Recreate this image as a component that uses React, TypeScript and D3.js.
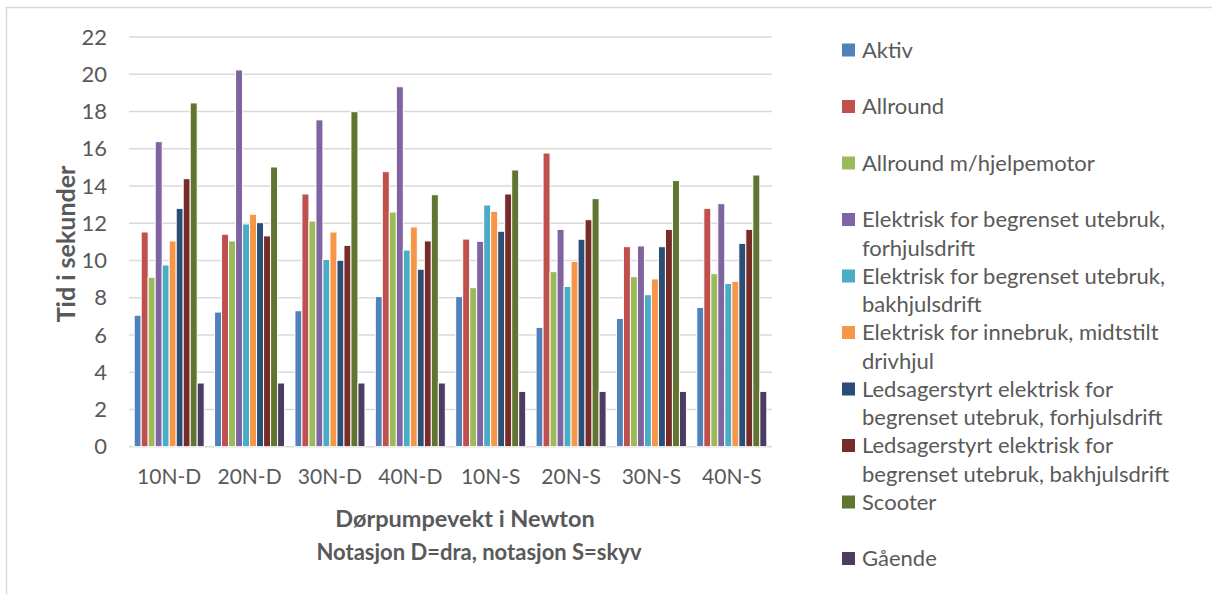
import React from "react";
import * as d3 from "d3";

const categories = ["10N-D", "20N-D", "30N-D", "40N-D", "10N-S", "20N-S", "30N-S", "40N-S"];
const yTicks = [0, 2, 4, 6, 8, 10, 12, 14, 16, 18, 20, 22];

const aktiv = [7.06, 7.23, 7.3, 8.06, 8.06, 6.41, 6.89, 7.48];
const allround = [11.53, 11.41, 13.57, 14.77, 11.15, 15.77, 10.74, 12.8];
const allroundMotor = [9.1, 11.05, 12.12, 12.6, 8.54, 9.4, 9.13, 9.29];
const elekForhjul = [16.38, 20.23, 17.55, 19.33, 11.03, 11.67, 10.78, 13.05];
const elekBakhjul = [9.76, 11.96, 10.06, 10.56, 12.98, 8.61, 8.16, 8.77];
const elekInne = [11.05, 12.48, 11.53, 11.8, 12.64, 9.95, 9.01, 8.88];
const ledsagerForhjul = [12.8, 12.03, 10.01, 9.53, 11.57, 11.14, 10.74, 10.92];
const ledsagerBakhjul = [14.39, 11.32, 10.81, 11.05, 13.57, 12.19, 11.67, 11.67];
const scooter = [18.46, 15.02, 17.99, 13.53, 14.86, 13.32, 14.29, 14.59];
const gaende = [3.42, 3.42, 3.42, 3.42, 2.97, 2.97, 2.97, 2.97];

const seriesLabels = [
  ["Aktiv"],
  ["Allround"],
  ["Allround m/hjelpemotor"],
  ["Elektrisk for begrenset utebruk,", "forhjulsdrift"],
  ["Elektrisk for begrenset utebruk,", "bakhjulsdrift"],
  ["Elektrisk for innebruk, midtstilt", "drivhjul"],
  ["Ledsagerstyrt elektrisk for", "begrenset utebruk, forhjulsdrift"],
  ["Ledsagerstyrt elektrisk for", "begrenset utebruk, bakhjulsdrift"],
  ["Scooter"],
  ["Gående"],
];
const seriesValues = [aktiv, allround, allroundMotor, elekForhjul, elekBakhjul, elekInne, ledsagerForhjul, ledsagerBakhjul, scooter, gaende];
const seriesColors = ["#4F81BD", "#C0504D", "#9BBB59", "#8064A2", "#4BACC6", "#F79646", "#2C4D75", "#772C2A", "#5F7530", "#4D3B62"];

const FONT = "Lato, 'Open Sans', sans-serif";
const TEXT = "#595959";

export default function App() {
  const W = 1212, H = 594;
  const x0 = d3.scaleBand<string>().domain(categories).range([129, 772]).padding(0);
  const idx = d3.range(seriesValues.length).map(String);
  const x1 = d3.scaleBand<string>().domain(idx).range([0, x0.bandwidth()]).paddingInner(0).paddingOuter(0.74);
  const y = d3.scaleLinear().domain([0, 22]).range([446.7, 37]);

  const legendY = (i: number) => 50 + i * 56.5;

  return (
    <svg width={W} height={H} style={{ position: "absolute", left: 0, top: 0, background: "#fff" }} fontFamily={FONT}>
      <rect x={0} y={0} width={W} height={H} fill="#fff" />
      <path d="M6.5,600 V7.5 H1220" fill="none" stroke="#D9D9D9" strokeWidth={1.5} />
      {yTicks.map((t) => (
        <g key={t}>
          <line x1={129} x2={772} y1={y(t)} y2={y(t)} stroke="#D9D9D9" strokeWidth={1.4} />
          <text x={107} y={y(t)} dy="0.35em" textAnchor="end" fontSize={22} fill={TEXT}>{t}</text>
        </g>
      ))}
      {seriesValues.map((vals, s) => (
        <g key={s} fill={seriesColors[s]}>
          {vals.map((v, c) => (
            <rect key={c}
              x={(x0(categories[c]) ?? 0) + (x1(String(s)) ?? 0)}
              y={y(v)}
              width={x1.bandwidth()}
              height={y(0) - y(v)}
              stroke="#fff" strokeWidth={1} />
          ))}
        </g>
      ))}
      {categories.map((c) => (
        <text key={c} x={(x0(c) ?? 0) + x0.bandwidth() / 2} y={477} dy="0.35em" textAnchor="middle" fontSize={21} fill={TEXT}>{c}</text>
      ))}
      <text transform={`translate(66,244) rotate(-90)`} textAnchor="middle" dy="0.35em" fontSize={25} fontWeight="bold" fill={TEXT}>Tid i sekunder</text>
      <text x={465} y={519} dy="0.35em" textAnchor="middle" fontSize={23.5} fontWeight="bold" fill={TEXT}>Dørpumpevekt i Newton</text>
      <text x={479} y={552} dy="0.35em" textAnchor="middle" fontSize={22} fontWeight="bold" fill={TEXT}>Notasjon D=dra, notasjon S=skyv</text>
      {seriesLabels.map((lines, i) => (
        <g key={i}>
          <rect x={842} y={legendY(i) - 6.5} width={13} height={13} fill={seriesColors[i]} />
          {lines.map((ln, j) => (
            <text key={j} x={862} y={legendY(i) + j * 28.5} dy="0.35em" fontSize={22} fill={TEXT}>{ln}</text>
          ))}
        </g>
      ))}
    </svg>
  );
}
